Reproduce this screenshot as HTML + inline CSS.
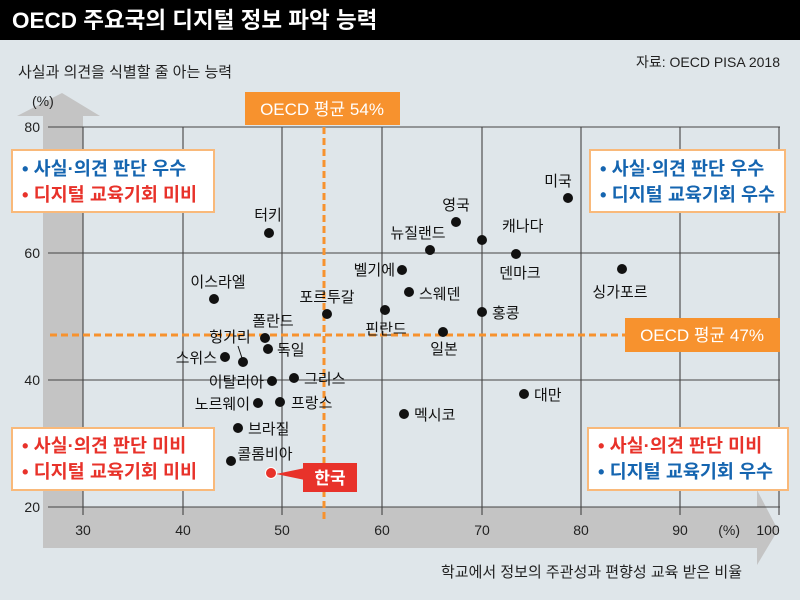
<!DOCTYPE html>
<html><head><meta charset="utf-8"><style>
body{margin:0;width:800px;height:600px;overflow:hidden;background:#dfe6ea;}
svg{display:block;font-family:"Liberation Sans","Noto Sans CJK KR","NanumGothic",sans-serif;}
</style></head><body>
<svg width="800" height="600" viewBox="0 0 800 600">
<rect width="800" height="600" fill="#dfe6ea"/>
<rect width="800" height="40" fill="#000"/>
<text x="12" y="28" fill="#fff" font-size="22.5" font-weight="bold">OECD 주요국의 디지털 정보 파악 능력</text>
<text x="780" y="67" fill="#222" font-size="14" text-anchor="end">자료: OECD PISA 2018</text>
<text x="18" y="77" fill="#222" font-size="15">사실과 의견을 식별할 줄 아는 능력</text>
<!-- arrows -->
<polygon points="43,520 43,116 17,116 62,93 100,116 83,116 83,520" fill="#c4c4c4"/>
<polygon points="43,507 757,507 757,490 778,530 757,565 757,548 43,548" fill="#c4c4c4"/>
<!-- grid -->
<g stroke="#444" stroke-width="1.1" fill="none">
<line x1="48" y1="127" x2="780" y2="127"/>
<line x1="48" y1="253" x2="780" y2="253"/>
<line x1="48" y1="380" x2="780" y2="380"/>
<line x1="48" y1="507" x2="780" y2="507"/>
<line x1="83" y1="127" x2="83" y2="515"/>
<line x1="183" y1="127" x2="183" y2="515"/>
<line x1="282" y1="127" x2="282" y2="515"/>
<line x1="382" y1="127" x2="382" y2="515"/>
<line x1="482" y1="127" x2="482" y2="515"/>
<line x1="581" y1="127" x2="581" y2="515"/>
<line x1="680" y1="127" x2="680" y2="515"/>
<line x1="779" y1="127" x2="779" y2="515"/>
</g>
<g font-size="14" fill="#222">
<text x="32" y="106">(%)</text>
<text x="40" y="132" text-anchor="end">80</text>
<text x="40" y="258" text-anchor="end">60</text>
<text x="40" y="385" text-anchor="end">40</text>
<text x="40" y="512" text-anchor="end">20</text>
<g text-anchor="middle">
<text x="83" y="535">30</text><text x="183" y="535">40</text><text x="282" y="535">50</text>
<text x="382" y="535">60</text><text x="482" y="535">70</text><text x="581" y="535">80</text>
<text x="680" y="535">90</text><text x="768" y="535">100</text>
</g>
<text x="740" y="535" text-anchor="end">(%)</text>
<text x="742" y="577" text-anchor="end" font-size="15">학교에서 정보의 주관성과 편향성 교육 받은 비율</text>
</g>
<!-- avg lines -->
<g stroke="#f7922e" stroke-width="3" stroke-dasharray="7,4">
<line x1="324" y1="127" x2="324" y2="520"/>
<line x1="50" y1="335" x2="625" y2="335"/>
</g>
<rect x="245" y="92" width="155" height="33" fill="#f7922e"/>
<text x="322" y="115" fill="#fff" font-size="17" text-anchor="middle">OECD 평균 54%</text>
<rect x="625" y="318" width="155" height="34" fill="#f7922e"/>
<text x="702" y="341" fill="#fff" font-size="17" text-anchor="middle">OECD 평균 47%</text>
<!-- quadrant boxes -->
<g stroke="#f9b97a" stroke-width="2" fill="#fff">
<rect x="12" y="150" width="202" height="62"/>
<rect x="590" y="150" width="195" height="62"/>
<rect x="12" y="428" width="202" height="62"/>
<rect x="588" y="428" width="200" height="62"/>
</g>
<g font-size="18.5" font-weight="bold">
<text x="22" y="175" fill="#1565b0">• 사실·의견 판단 우수</text>
<text x="22" y="201" fill="#e8322a">• 디지털 교육기회 미비</text>
<text x="600" y="175" fill="#1565b0">• 사실·의견 판단 우수</text>
<text x="600" y="201" fill="#1565b0">• 디지털 교육기회 우수</text>
<text x="22" y="452" fill="#e8322a">• 사실·의견 판단 미비</text>
<text x="22" y="478" fill="#e8322a">• 디지털 교육기회 미비</text>
<text x="598" y="452" fill="#e8322a">• 사실·의견 판단 미비</text>
<text x="598" y="478" fill="#1565b0">• 디지털 교육기회 우수</text>
</g>
<!-- points -->
<g fill="#111">
<circle cx="269" cy="233" r="5"/><circle cx="568" cy="198" r="5"/><circle cx="456" cy="222" r="5"/>
<circle cx="482" cy="240" r="5"/><circle cx="430" cy="250" r="5"/><circle cx="516" cy="254" r="5"/>
<circle cx="622" cy="269" r="5"/><circle cx="402" cy="270" r="5"/><circle cx="214" cy="299" r="5"/>
<circle cx="409" cy="292" r="5"/><circle cx="327" cy="314" r="5"/><circle cx="385" cy="310" r="5"/>
<circle cx="482" cy="312" r="5"/><circle cx="443" cy="332" r="5"/><circle cx="265" cy="338" r="5"/>
<circle cx="243" cy="362" r="5"/><circle cx="268" cy="349" r="5"/><circle cx="225" cy="357" r="5"/>
<circle cx="272" cy="381" r="5"/><circle cx="294" cy="378" r="5"/><circle cx="258" cy="403" r="5"/>
<circle cx="280" cy="402" r="5"/><circle cx="404" cy="414" r="5"/><circle cx="524" cy="394" r="5"/>
<circle cx="238" cy="428" r="5"/><circle cx="231" cy="461" r="5"/>
</g>
<line x1="238" y1="346" x2="242" y2="358" stroke="#111" stroke-width="1"/>
<g font-size="15" fill="#111">
<g text-anchor="middle">
<text x="268" y="220">터키</text><text x="558" y="186">미국</text><text x="456" y="210">영국</text>
<text x="418" y="238">뉴질랜드</text><text x="520" y="278">덴마크</text><text x="620" y="297">싱가포르</text>
<text x="218" y="287">이스라엘</text><text x="327" y="302">포르투갈</text><text x="386" y="334">핀란드</text>
<text x="444" y="354">일본</text><text x="273" y="326">폴란드</text><text x="230" y="342">헝가리</text>
<text x="265" y="459">콜롬비아</text>
</g>
<text x="502" y="231">캐나다</text>
<text x="395" y="275" text-anchor="end">벨기에</text>
<text x="419" y="299">스웨덴</text>
<text x="492" y="318">홍콩</text>
<text x="277" y="355">독일</text>
<text x="217" y="363" text-anchor="end">스위스</text>
<text x="264" y="387" text-anchor="end">이탈리아</text>
<text x="304" y="384">그리스</text>
<text x="250" y="409" text-anchor="end">노르웨이</text>
<text x="291" y="408">프랑스</text>
<text x="414" y="420">멕시코</text>
<text x="534" y="400">대만</text>
<text x="248" y="434">브라질</text>
</g>
<!-- Korea -->
<polygon points="276,474 305,468 305,480" fill="#e8322a"/>
<rect x="303" y="463" width="54" height="29" fill="#e8322a"/>
<text x="330" y="484" fill="#fff" font-size="17" font-weight="bold" text-anchor="middle">한국</text>
<circle cx="271" cy="473" r="5.5" fill="#e8322a" stroke="#fff" stroke-width="1"/>
</svg>
</body></html>
